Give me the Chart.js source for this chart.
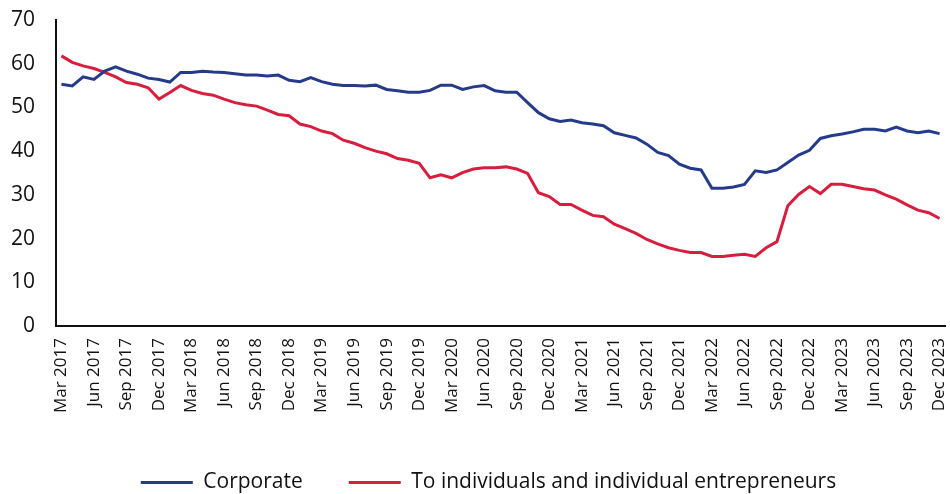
<!DOCTYPE html>
<html>
<head>
<meta charset="utf-8">
<script src="https://cdn.jsdelivr.net/npm/chart.js@4/dist/chart.umd.min.js"></script>
<style>
  html, body { margin: 0; padding: 0; background: #ffffff; }
  #wrap { width: 950px; height: 494px; position: relative; }
</style>
</head>
<body>
<div id="wrap"><canvas id="c" width="950" height="494"></canvas></div>
<script>
const monthNames = ["Jan","Feb","Mar","Apr","May","Jun","Jul","Aug","Sep","Oct","Nov","Dec"];
const startYear = 2017, startMonth = 2, monthCount = 82; // Mar 2017 .. Dec 2023
const categories = [];
for (let k = 0; k < monthCount; k++) {
  const m = (startMonth + k) % 12;
  const y = startYear + Math.floor((startMonth + k) / 12);
  categories.push(monthNames[m] + " " + y);
}

const corporate = [
  55.3, 54.9, 57.0, 56.4, 58.3, 59.3, 58.3, 57.6, 56.7, 56.4,
  55.8, 58.0, 58.0, 58.3, 58.1, 58.0, 57.7, 57.4, 57.4, 57.2,
  57.4, 56.2, 55.9, 56.8, 55.9, 55.3, 55.0, 55.0, 54.9, 55.1,
  54.1, 53.8, 53.5, 53.5, 53.9, 55.1, 55.1, 54.1, 54.7, 55.0,
  53.8, 53.5, 53.5, 51.1, 48.8, 47.4, 46.8, 47.1, 46.5, 46.2,
  45.8, 44.2, 43.6, 43.0, 41.6, 39.7, 39.0, 37.0, 36.1, 35.7,
  31.5, 31.5, 31.8, 32.4, 35.5, 35.1, 35.7, 37.4, 39.1, 40.2,
  42.9, 43.5, 43.9, 44.4, 45.0, 45.0, 44.6, 45.5, 44.6, 44.2,
  44.6, 44.0
];

const individuals = [
  61.8, 60.3, 59.5, 58.9, 58.0, 57.0, 55.7, 55.3, 54.5, 51.9,
  53.4, 55.0, 53.9, 53.2, 52.8, 51.9, 51.1, 50.6, 50.3, 49.4,
  48.4, 48.1, 46.2, 45.6, 44.6, 44.0, 42.5, 41.8, 40.8, 40.0,
  39.4, 38.3, 37.9, 37.2, 33.9, 34.6, 33.9, 35.1, 35.9, 36.2,
  36.2, 36.4, 35.9, 34.9, 30.5, 29.6, 27.8, 27.8, 26.5, 25.3,
  25.0, 23.3, 22.3, 21.2, 19.8, 18.8, 17.9, 17.3, 16.8, 16.8,
  15.9, 15.9, 16.2, 16.4, 15.9, 17.9, 19.3, 27.5, 30.1, 31.9,
  30.3, 32.4, 32.4, 31.9, 31.4, 31.1, 30.0, 29.0, 27.7, 26.5,
  25.9, 24.6
];

const seriesNames = ["Corporate", "To individuals and individual entrepreneurs"];
const seriesColors = ["#253b8a", "#d81e3f"];
const yTicks = [0, 10, 20, 30, 40, 50, 60, 70];

const FONT = "'Open Sans', sans-serif";

const legendTweak = {
  id: 'legendTweak',
  afterInit(chart) {
    const lg = chart.legend;
    if (!lg) return;
    const origFit = lg.fit.bind(lg);
    lg.fit = function() { origFit(); this.height -= 9; };
  },
  afterLayout(chart) {
    const lg = chart.legend;
    if (!lg) return;
    lg.left += 15; lg.right += 15;
  }
};

new Chart(document.getElementById('c'), {
  type: 'line',
  data: {
    labels: categories,
    datasets: [
      { label: seriesNames[0], data: corporate, borderColor: seriesColors[0], backgroundColor: seriesColors[0],
        borderWidth: 3, pointRadius: 0, tension: 0, fill: false },
      { label: seriesNames[1], data: individuals, borderColor: seriesColors[1], backgroundColor: seriesColors[1],
        borderWidth: 3, pointRadius: 0, tension: 0, fill: false }
    ]
  },
  plugins: [legendTweak],
  options: {
    responsive: false,
    animation: false,
    devicePixelRatio: 1,
    layout: { padding: { top: 20, right: 5, left: 2, bottom: 0 } },
    plugins: {
      tooltip: { enabled: false },
      legend: {
        position: 'bottom',
        labels: {
          font: { family: FONT, size: 21 },
          color: '#111',
          boxWidth: 52,
          boxHeight: 3,
          padding: 46,
          generateLabels: function(chart) {
            const items = Chart.defaults.plugins.legend.labels.generateLabels(chart);
            items.forEach(it => { it.lineWidth = 0; it.strokeStyle = 'rgba(0,0,0,0)'; });
            return items;
          }
        }
      }
    },
    scales: {
      x: {
        offset: true,
        grid: { display: false, drawTicks: false },
        border: { display: true, color: '#111', width: 2 },
        afterFit: function(s) { s.height = 100; s.paddingLeft = 0; s.paddingRight = 0; },
        ticks: {
          autoSkip: false,
          maxRotation: 90,
          minRotation: 90,
          padding: 12,
          color: '#111',
          font: { family: FONT, size: 17 },
          callback: function(v, i) { return i % 3 === 0 ? categories[i] : ''; }
        }
      },
      y: {
        min: 0,
        max: 70,
        afterBuildTicks: function(axis) { axis.ticks = yTicks.map(v => ({ value: v })); },
        afterFit: function(s) { s.width = 54; s.paddingTop = 0; s.paddingBottom = 0; },
        grid: { display: false, drawTicks: false },
        border: { display: true, color: '#111', width: 2 },
        ticks: {
          padding: 21,
          color: '#111',
          font: { family: FONT, size: 21 }
        }
      }
    }
  }
});
</script>
</body>
</html>
